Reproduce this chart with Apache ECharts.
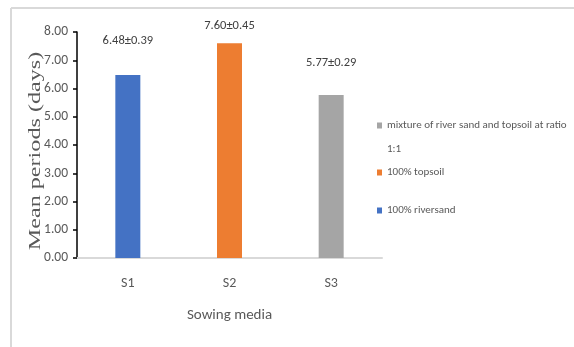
<!DOCTYPE html>
<html>
<head>
<meta charset="utf-8">
<script src="https://cdn.jsdelivr.net/npm/echarts@6/dist/echarts.min.js"></script>
<style>html,body{margin:0;padding:0;background:#fff}#c{width:574px;height:347px}</style>
</head>
<body>
<div id="c"></div>
<script>
const categories = ['S1', 'S2', 'S3'];
const means = [6.48, 7.60, 5.77];
const sds = [0.39, 0.45, 0.29];
const seriesNames = ['100% riversand', '100% topsoil', 'mixture of river sand and topsoil at ratio 1:1'];
const yTicks = [0, 1, 2, 3, 4, 5, 6, 7, 8];
const colors = ['#4472C4', '#ED7D31', '#A5A5A5'];
const labelGaps = [28, 11, 26];

const NARROW = 'Carlito,"Liberation Sans",sans-serif';
const chart = echarts.init(document.getElementById('c'), null, {renderer: 'canvas'});

const series = categories.map((c, i) => ({
  name: seriesNames[i],
  type: 'bar',
  stack: 'all',
  barWidth: 25,
  itemStyle: {color: colors[i]},
  data: categories.map((_, j) => j === i ? means[i] : '-'),
  label: {
    show: true, position: 'top', distance: labelGaps[i],
    fontFamily: NARROW, fontSize: 12.5, color: '#404040',
    formatter: () => means[i].toFixed(2) + '±' + sds[i].toFixed(2)
  }
}));

const legendTops = [96, 167, 205];
const legendOrder = [2, 1, 0];
const legends = legendOrder.map((si, k) => ({
  data: [seriesNames[si]],
  left: 377, top: legendTops[k], padding: 0,
  orient: 'vertical',
  icon: 'rect', itemWidth: 5, itemHeight: 6,
  selectedMode: false,
  formatter: si === 2
    ? (n => '{e| }\n{a|' + n.replace(' 1:1', '') + '}\n{a|1:1}')
    : (n => '{a|' + n + '}'),
  textStyle: {
    fontFamily: NARROW, fontSize: 11, color: '#595959',
    rich: {
      e: {fontFamily: NARROW, fontSize: 11, lineHeight: si === 2 ? 24 : 16, color: '#595959'},
      a: {fontFamily: NARROW, fontSize: 11, lineHeight: si === 2 ? 24 : 16, color: '#595959'}
    }
  }
}));

chart.setOption({
  animation: false,
  backgroundColor: '#fff',
  grid: {left: 77, right: 192, top: 32, bottom: 89, containLabel: false},
  legend: legends,
  xAxis: {
    type: 'category', data: categories,
    axisLine: {lineStyle: {color: '#D9D9D9', width: 2}},
    axisTick: {show: false},
    axisLabel: {fontFamily: NARROW, fontSize: 14, color: '#595959', margin: 18},
    name: 'Sowing media', nameLocation: 'middle', nameGap: 50,
    nameTextStyle: {fontFamily: NARROW, fontSize: 15, color: '#595959'}
  },
  yAxis: {
    type: 'value', min: yTicks[0], max: yTicks[yTicks.length - 1], interval: yTicks[1] - yTicks[0],
    axisLine: {show: true, lineStyle: {color: '#000', width: 1.5}},
    axisTick: {show: true, length: 4, lineStyle: {color: '#000', width: 1.5}},
    splitLine: {show: false},
    axisLabel: {fontFamily: NARROW, fontSize: 13.5, color: '#595959', margin: 9,
      formatter: v => v.toFixed(2)}
  },
  graphic: [
    {type: 'line', shape: {x1: 11, y1: 8, x2: 574, y2: 8}, style: {stroke: '#D9D9D9', lineWidth: 2}, silent: true},
    {type: 'line', shape: {x1: 11, y1: 8, x2: 11, y2: 347}, style: {stroke: '#D9D9D9', lineWidth: 2}, silent: true},
    {type: 'text', x: 36, y: 151, rotation: Math.PI / 2, scaleX: 1.42, silent: true,
      style: {text: 'Mean periods (days)', font: '17px "Liberation Serif", serif', fill: '#595959',
        textAlign: 'center', textVerticalAlign: 'middle'}}
  ],
  series: series
});
</script>
</body>
</html>
